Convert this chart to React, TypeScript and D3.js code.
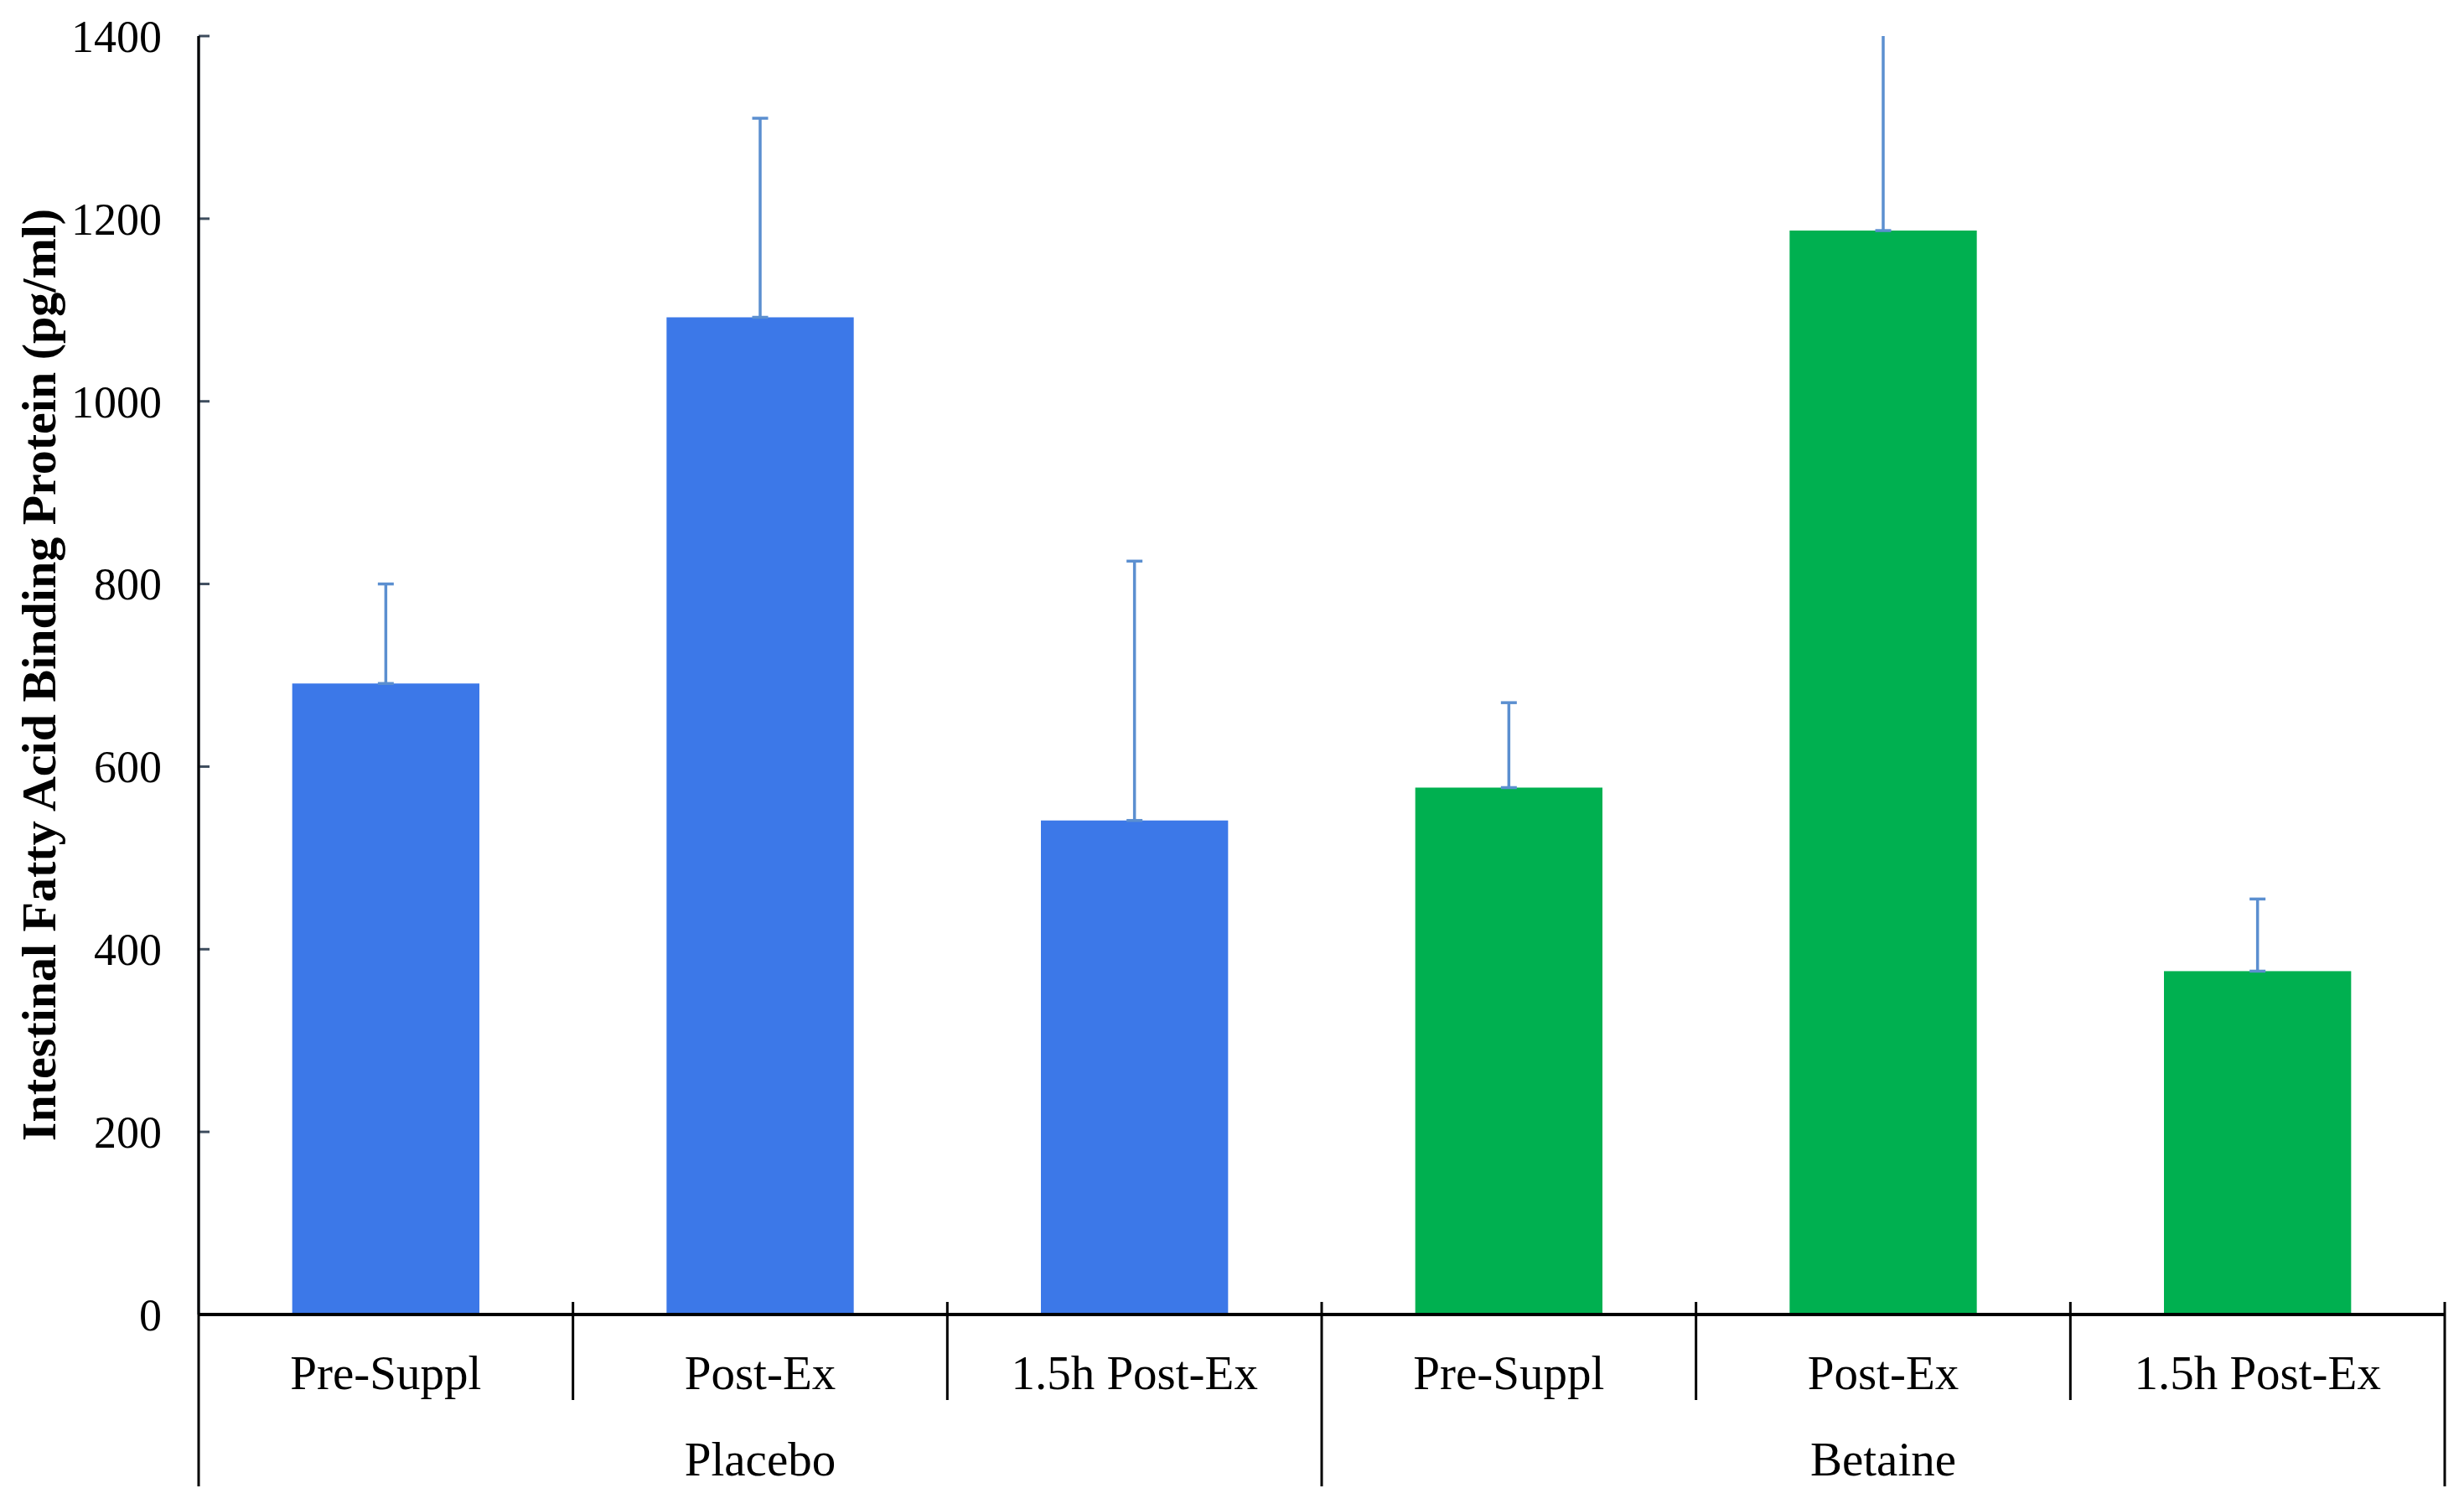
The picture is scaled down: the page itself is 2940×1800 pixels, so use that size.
import React from "react";
import * as d3 from "d3";

const W = 2940;
const H = 1800;

const groups = ["Placebo", "Betaine"];
const timepoints = ["Pre-Suppl", "Post-Ex", "1.5h Post-Ex"];
const means = [691, 1092, 541, 577, 1187, 376];
const errors = [109, 218, 284, 93, 240, 79];
const yTicks = [0, 200, 400, 600, 800, 1000, 1200, 1400];
const barColors = ["#3C78E8", "#00B050"];

const margin = { top: 43, right: 23, left: 237, baseline: 1568 };
const font = "'Liberation Serif', 'Times New Roman', serif";

export default function App() {
  const cats = d3.range(means.length);

  const x = d3.scaleBand<number>()
    .domain(cats)
    .range([margin.left, W - margin.right])
    .paddingInner(0.5)
    .paddingOuter(0.25);

  const y = d3.scaleLinear()
    .domain([0, 1400])
    .range([margin.baseline, margin.top]);

  const step = x.step();
  const capW = 19;

  return (
    <svg width={W} height={H} style={{ position: "absolute", left: 0, top: 0, background: "#fff" }}>
      <defs>
        <clipPath id="plot">
          <rect x={margin.left} y={margin.top} width={W - margin.left - margin.right} height={margin.baseline - margin.top} />
        </clipPath>
      </defs>

      {/* bars */}
      {cats.map(i => (
        <rect key={"b" + i}
          x={x(i)!} y={y(means[i])}
          width={x.bandwidth()} height={y(0) - y(means[i])}
          fill={barColors[Math.floor(i / 3)]} />
      ))}

      {/* error bars, plus direction only */}
      <g clipPath="url(#plot)" stroke="#5B8FD0" strokeWidth={3.5}>
        {cats.map(i => {
          const cx = x(i)! + x.bandwidth() / 2;
          const top = y(means[i] + errors[i]);
          const bot = y(means[i]);
          return (
            <g key={"e" + i}>
              <line x1={cx} x2={cx} y1={bot} y2={top} />
              <line x1={cx - capW / 2} x2={cx + capW / 2} y1={top} y2={top} />
              <line x1={cx - capW / 2} x2={cx + capW / 2} y1={bot} y2={bot} />
            </g>
          );
        })}
      </g>

      {/* y axis */}
      <line x1={margin.left} x2={margin.left} y1={margin.top} y2={margin.baseline} stroke="#3E4D5E" strokeWidth={3} />
      {yTicks.map(t => (
        <g key={"t" + t}>
          {t > 0 && <line x1={margin.left} x2={margin.left + 13} y1={y(t)} y2={y(t)} stroke="#3E4D5E" strokeWidth={3} />}
          <text x={193} y={y(t)} dy="0.35em" textAnchor="end" fontFamily={font} fontSize={54} fill="#000">{t}</text>
        </g>
      ))}

      <text transform={`translate(66,805) rotate(-90)`}
        textAnchor="middle" fontFamily={font} fontWeight="bold" fontSize={58} fill="#000">
        Intestinal Fatty Acid Binding Protein  (pg/ml)
      </text>

      {/* x axis baseline and category separators */}
      <line x1={margin.left} x2={W - margin.right} y1={margin.baseline} y2={margin.baseline} stroke="#000" strokeWidth={4} />
      {d3.range(means.length + 1).map(k => {
        const sx = margin.left + k * step;
        const outer = k % 3 === 0;
        return (
          <line key={"s" + k} x1={sx} x2={sx} y1={outer ? margin.top + (k === 0 ? 0 : margin.baseline - margin.top - 15) : margin.baseline - 15}
            y2={outer ? 1773 : 1670} stroke="#000" strokeWidth={3} />
        );
      })}

      {cats.map(i => (
        <text key={"c" + i} x={x(i)! + x.bandwidth() / 2} y={1657} textAnchor="middle"
          fontFamily={font} fontSize={57} fill="#000">{timepoints[i % 3]}</text>
      ))}
      {groups.map((g, gi) => (
        <text key={"g" + g} x={margin.left + (gi * 3 + 1.5) * step} y={1760} textAnchor="middle"
          fontFamily={font} fontSize={57} fill="#000">{g}</text>
      ))}
    </svg>
  );
}
